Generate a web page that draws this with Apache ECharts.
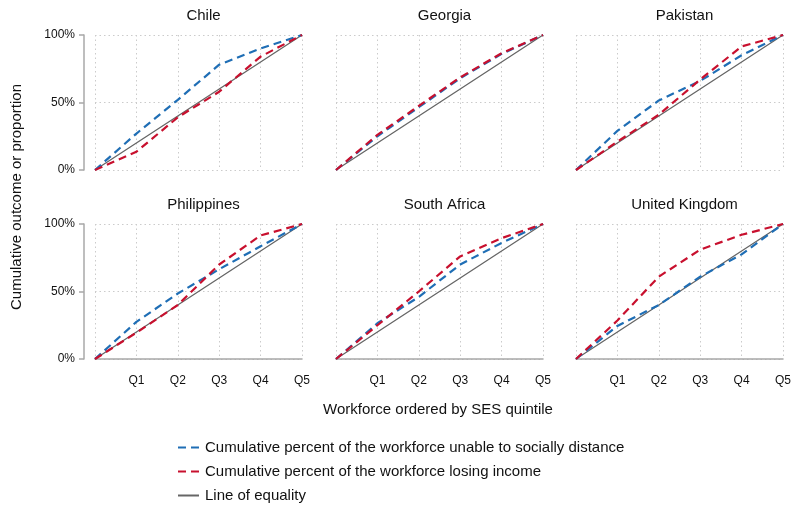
<!DOCTYPE html>
<html>
<head>
<meta charset="utf-8">
<script src="https://cdn.jsdelivr.net/npm/echarts@6/dist/echarts.min.js"></script>
<style>
html,body{margin:0;padding:0;background:#fff;}
#c{width:800px;height:511px;}
</style>
</head>
<body>
<div id="c"></div>
<script>
// ---- data ----
var countries = ['Chile', 'Georgia', 'Pakistan', 'Philippines', 'South Africa', 'United Kingdom'];
var quintiles = ['', 'Q1', 'Q2', 'Q3', 'Q4', 'Q5'];

var chileDistance = [0, 27, 52, 78, 90, 100];
var chileIncome = [0, 13.5, 39, 58, 84, 100];
var georgiaDistance = [0, 25, 46.5, 68, 86, 100];
var georgiaIncome = [0, 26, 47.5, 68.6, 86.5, 100];
var pakistanDistance = [0, 29, 51.5, 66, 85, 100];
var pakistanIncome = [0, 21, 41, 67, 91.5, 100];
var philippinesDistance = [0, 27.5, 48.5, 66.5, 83.5, 100];
var philippinesIncome = [0, 19.5, 40, 70, 91.5, 100];
var southAfricaDistance = [0, 26.5, 46, 70, 86, 100];
var southAfricaIncome = [0, 25, 50, 76, 89.5, 100];
var ukDistance = [0, 24.5, 40, 61, 77.5, 100];
var ukIncome = [0, 28.5, 61, 81, 92, 100];
var equalityLine = [0, 20, 40, 60, 80, 100];

var distanceSeries = [chileDistance, georgiaDistance, pakistanDistance, philippinesDistance, southAfricaDistance, ukDistance];
var incomeSeries = [chileIncome, georgiaIncome, pakistanIncome, philippinesIncome, southAfricaIncome, ukIncome];

var nameDistance = 'Cumulative percent of the workforce unable to socially distance';
var nameIncome = 'Cumulative percent of the workforce losing income';
var nameEquality = 'Line of equality';

// ---- layout ----
var FONT = '"Liberation Sans", Arial, sans-serif';
var TXT = '#111111';
var BLUE = '#1f6eb5';
var RED = '#c8102e';
var GRAY = '#666666';
var colLeft = [95, 336, 576];
var rowTop = [35, 224];
var pw = 207, ph = 135;

var grids = [], xAxes = [], yAxes = [], series = [], titles = [];
var gridLineStyle = {color: '#cbcbcb', width: 1, type: [1.5, 3]};

countries.forEach(function (name, i) {
  var r = Math.floor(i / 3), c = i % 3;
  grids.push({left: colLeft[c], top: rowTop[r], width: pw, height: ph, containLabel: false});
  titles.push({
    text: name, left: colLeft[c] + pw / 2, top: rowTop[r] - 32, textAlign: 'center',
    textStyle: {fontFamily: FONT, fontSize: 15, fontWeight: 'normal', color: TXT}
  });
  xAxes.push({
    type: 'category', gridIndex: i, data: quintiles, boundaryGap: false,
    offset: 10,
    axisLine: {show: r === 1, lineStyle: {color: '#a8a8a8', width: 1.5}},
    axisTick: {show: false},
    axisLabel: {show: r === 1, interval: 0, margin: 6, fontFamily: FONT, fontSize: 12, color: TXT},
    splitLine: {show: true, interval: 0, lineStyle: gridLineStyle}
  });
  yAxes.push({
    type: 'value', gridIndex: i, min: 0, max: 100, interval: 50,
    offset: 11,
    axisLine: {show: c === 0, lineStyle: {color: '#a8a8a8', width: 1.5}},
    axisTick: {show: c === 0, length: 5, lineStyle: {color: '#a8a8a8', width: 1.5}},
    axisLabel: {show: c === 0, margin: 9, fontFamily: FONT, fontSize: 12, color: TXT, formatter: '{value}%'},
    splitLine: {show: true, lineStyle: gridLineStyle}
  });
  series.push({
    name: nameEquality, type: 'line', xAxisIndex: i, yAxisIndex: i, data: equalityLine,
    symbol: 'none', showSymbol: false, silent: true, z: 2,
    lineStyle: {color: GRAY, width: 1.3, type: 'solid'}, itemStyle: {color: GRAY}
  });
  series.push({
    name: nameDistance, type: 'line', xAxisIndex: i, yAxisIndex: i, data: distanceSeries[i],
    symbol: 'none', showSymbol: false, silent: true, z: 3,
    lineStyle: {color: BLUE, width: 2.2, type: [8, 5]}, itemStyle: {color: BLUE}
  });
  series.push({
    name: nameIncome, type: 'line', xAxisIndex: i, yAxisIndex: i, data: incomeSeries[i],
    symbol: 'none', showSymbol: false, silent: true, z: 4,
    lineStyle: {color: RED, width: 2.2, type: [8, 5]}, itemStyle: {color: RED}
  });
});

var chart = echarts.init(document.getElementById('c'), null, {renderer: 'canvas'});
chart.setOption({
  animation: false,
  backgroundColor: '#ffffff',
  title: titles,
  grid: grids,
  xAxis: xAxes,
  yAxis: yAxes,
  series: series,
  legend: {
    orient: 'vertical', left: 172, top: 435,
    itemWidth: 21, itemHeight: 14, itemGap: 9,
    data: [
      {name: nameDistance, lineStyle: {type: [8, 5]}},
      {name: nameIncome, lineStyle: {type: [8, 5]}},
      {name: nameEquality}
    ],
    itemStyle: {opacity: 0},
    textStyle: {fontFamily: FONT, fontSize: 15, color: TXT, padding: [0, 0, 0, 1]},
    selectedMode: false
  },
  graphic: [
    {type: 'text', x: 438, y: 410, style: {text: 'Workforce ordered by SES quintile', font: '15px ' + FONT, fill: TXT, textAlign: 'center', textVerticalAlign: 'middle'}},
    {type: 'text', x: 17, y: 197, rotation: Math.PI / 2, style: {text: 'Cumulative outcome or proportion', font: '15px ' + FONT, fill: TXT, textAlign: 'center', textVerticalAlign: 'middle'}}
  ]
});
</script>
</body>
</html>
